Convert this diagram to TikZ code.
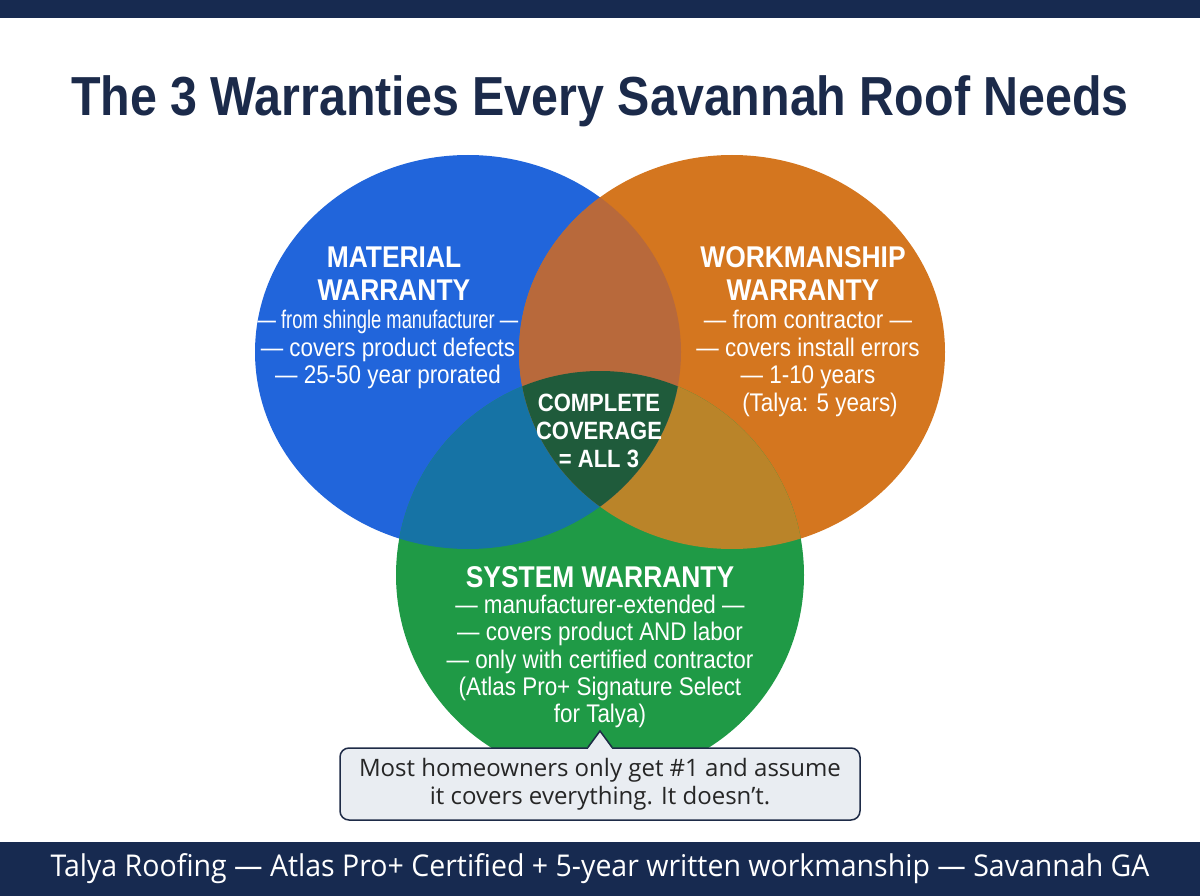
\documentclass[tikz,border=0pt]{standalone}
\usepackage{fontspec}
\usepackage{graphicx}
\setmainfont{Liberation Sans}
\newfontfamily\condfont[FakeStretch=0.88]{Liberation Sans}
\newfontfamily\callfont{Open Sans}
\newfontfamily\footfont[FakeStretch=0.95]{Open Sans}
\newcommand{\fsz}[2]{\fontsize{#1}{#2}\selectfont}
\definecolor{navy}{HTML}{172A50}
\definecolor{titlenavy}{HTML}{1B2A4A}
\definecolor{matblue}{HTML}{2165DB}
\definecolor{wkorange}{HTML}{D4761F}
\definecolor{sysgreen}{HTML}{1F9A46}
\definecolor{blueorange}{HTML}{B8693B}
\definecolor{bluegreen}{HTML}{1673A5}
\definecolor{orangegreen}{HTML}{BA8429}
\definecolor{allthree}{HTML}{1F5B3B}
\definecolor{callfill}{HTML}{E9EDF2}
\definecolor{callline}{HTML}{1E2B47}
\tikzset{
  headtext/.style={text=white, align=center, font=\condfont\bfseries\fsz{30}{33}},
  bodytext/.style={text=white, align=center, font=\condfont\fsz{25.5}{27.5}},
  callbox/.style={draw=callline, fill=callfill, line width=1.5pt, rounded corners=9pt,
    minimum width=520pt, minimum height=72pt, align=center, text=black!85,
    font=\callfont\fsz{24}{28}}
}
\begin{document}
\begin{tikzpicture}[x=1pt,y=-1pt]
    \useasboundingbox (0,0) rectangle (1200,896);
    \fill[navy] (0,0) rectangle (1200,18);
    \fill[navy] (0,842) rectangle (1200,896);
    \node[text=titlenavy, font=\condfont\bfseries\fsz{55}{60}] (title) at (600,101) {The 3 Warranties Every Savannah Roof Needs};

    \coordinate (matc) at (468,352);
    \coordinate (wkc) at (732,352);
    \coordinate (sysc) at (600,575);
    \fill[matblue] (matc) ellipse [x radius=213, y radius=197];
    \fill[wkorange] (wkc) ellipse [x radius=213, y radius=197];
    \fill[sysgreen] (sysc) circle [radius=204];
    \begin{scope}
        \clip (wkc) ellipse [x radius=213, y radius=197];
        \fill[orangegreen] (sysc) circle [radius=204];
    \end{scope}
    \begin{scope}
        \clip (matc) ellipse [x radius=213, y radius=197];
        \fill[bluegreen] (sysc) circle [radius=204];
        \fill[blueorange] (wkc) ellipse [x radius=213, y radius=197];
        \clip (wkc) ellipse [x radius=213, y radius=197];
        \fill[allthree] (sysc) circle [radius=204];
    \end{scope}

    \node[headtext] (mathead) at (394,274) {MATERIAL\\WARRANTY};
    \node[bodytext] (matbody) at (388,349.5) {\scalebox{0.82}[1]{— from shingle manufacturer —}\\— covers product defects\\— 25-50 year prorated};
    \node[headtext] (wkhead) at (803,274) {WORKMANSHIP\\WARRANTY};
    \node[bodytext] (wkbody) at (808,363.5) {— from contractor —\\— covers install errors\\— 1-10 years\\\hspace*{24pt}(Talya: 5 years)};
    \node[headtext, font=\condfont\bfseries\fsz{25}{28}] (allnode) at (599,431) {COMPLETE\\COVERAGE\\= ALL 3};
    \node[headtext] (syshead) at (600,577) {SYSTEM WARRANTY};
    \node[bodytext, font=\condfont\fsz{25.5}{27.3}] (sysbody) at (600,661.5) {— manufacturer-extended —\\— covers product AND labor\\— only with certified contractor\\(Atlas Pro+ Signature Select\\for Talya)};

    \node[callbox] (note) at (600,784) {Most homeowners only get \#1 and assume\\it covers everything. It doesn’t.};
    \coordinate (tip) at (600,731);
    \fill[callfill] ([xshift=-12pt,yshift=-1.5pt]note.north) -- (tip) -- ([xshift=12pt,yshift=-1.5pt]note.north) -- cycle;
    \draw[callline, line width=1.5pt, line join=miter] ([xshift=-12pt]note.north) -- (tip) -- ([xshift=12pt]note.north);

    \node[text=white, font=\footfont\fsz{30}{33}] (footer) at (600,869) {Talya Roofing — Atlas Pro+ Certified + 5-year written workmanship — Savannah GA};
\end{tikzpicture}
\end{document}
